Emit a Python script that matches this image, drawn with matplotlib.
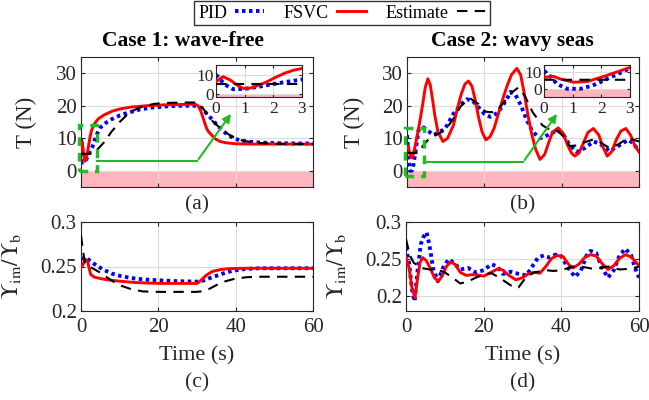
import glob
import os
import numpy as np
import matplotlib
matplotlib.use('Agg')
import matplotlib.pyplot as plt
from matplotlib import font_manager
from matplotlib.patches import Rectangle

# buscar la Liberation Serif (tipo Times) y registrarla
rutas = []
for base in ['/usr/share/fonts', '/usr/local/share/fonts']:
    rutas += glob.glob(os.path.join(base, '**', '*iberation*erif*.ttf'), recursive=True)
for f in set(rutas):
    try:
        font_manager.fontManager.addfont(f)
    except Exception:
        pass
nombres = {f.name for f in font_manager.fontManager.ttflist}
serifs = [n for n in ['Liberation Serif', 'Times New Roman', 'STIXGeneral'] if n in nombres]
plt.rcParams['font.family'] = serifs + ['DejaVu Serif']
plt.rcParams['mathtext.fontset'] = 'stix'

# ---- datos ----
# Caso 1: sin olas, tension T (N)
t_a_pid = [0, 0.3, 0.6, 1.0, 1.5, 2.0, 2.5, 3.0, 4, 5, 6.5, 8, 10, 12, 15, 18, 22, 26, 30,
           31, 32, 33, 34, 35, 36, 37, 38, 39.5, 41, 43, 46, 50, 55, 60]
T_a_pid = [10, 5, 2.5, 2.7, 3.8, 5.2, 6.4, 7.5, 11, 13.3, 14.8, 15.9, 17, 17.8, 18.8, 19.4, 19.8, 20, 20,
           19.3, 18.2, 17, 15.6, 14.3, 13.1, 12, 11, 10, 9.4, 9, 8.7, 8.5, 8.4, 8.4]
t_a_fsvc = [0, 0.25, 0.5, 0.75, 0.95, 1.2, 1.5, 1.8, 2.1, 2.4, 2.7, 3.0, 3.5, 4.5, 6, 8, 10, 13, 17, 22,
            26, 29.5, 30.3, 31, 31.5, 32, 32.5, 33, 34, 35, 36, 37.5, 40, 45, 60]
T_a_fsvc = [6.5, 9, 7.2, 4.5, 2.9, 3.1, 4.6, 6.5, 8.8, 10.8, 12.3, 13.2, 14.5, 16, 17.2, 18.3, 19, 19.6, 20, 20.3,
            20.4, 20.5, 20, 18.3, 16.5, 14.7, 13, 12, 10.7, 9.6, 9, 8.6, 8.3, 8.2, 8.2]
t_a_est = [0, 1, 2, 3, 4, 5, 6, 7, 8, 9, 10, 12, 14, 16, 19, 23, 27, 29.5, 30.5, 31.5, 32.5, 34, 36,
           38, 40, 42, 45, 50, 60]
T_a_est = [5.2, 5.2, 5.2, 5.2, 6.3, 7.5, 8.8, 10.5, 12.2, 13.5, 15, 17.3, 18.8, 19.8, 20.6, 20.9, 21, 21, 20.6,
           19.3, 17.5, 15.3, 13.1, 11.3, 10, 9.2, 8.6, 8.3, 8.2]

# Caso 2: mar con olas, tension T (N)
t_b_pid = [0, 0.2, 0.45, 0.8, 1.27, 1.7, 2.2, 2.7, 3.0, 3.6, 4.3, 5.5, 6.9, 8.5, 9.9, 12, 14, 15.5, 17, 18.5,
           20, 21.5, 23, 24.5, 26, 26.8, 28, 29.5, 31, 32.5, 34.4, 36.5, 38.9, 40.5, 42, 43.9, 46, 48.3, 50,
           52.4, 54.5, 57.2, 58.5, 60]
T_b_pid = [11, 8, 3, 0, 0, 2, 6, 10, 12.6, 13.2, 13.3, 12.2, 11, 12, 13, 17.5, 20.5, 22, 21.5, 19.5,
           17.5, 16.6, 17.5, 19.5, 22.5, 24.3, 23.5, 20, 15.5, 12, 10, 11, 12.5, 11, 8, 5.8, 7, 9, 8.2,
           6, 7.5, 9.5, 8.5, 6]
t_b_fsvc = [0, 0.33, 0.56, 1.03, 1.5, 2.1, 2.5, 3.0, 3.5, 4.0, 4.7, 5.4, 6.0, 6.6, 7.2, 8, 9.3, 10.5, 12, 13, 14,
            15, 15.9, 16.8, 17.6, 18.5, 19.4, 20.4, 21.5, 22.5, 24, 25, 26, 27, 28.4, 29.4, 30.3, 31.3, 32.3,
            33.3, 34.4, 35.6, 36.6, 37.6, 39.1, 40.4, 41.5, 42.5, 43.4, 44.5, 45.6, 46.8, 48.2, 49.6, 50.6,
            51.8, 53, 54.1, 55.3, 56.6, 57.8, 59, 60]
T_b_fsvc = [7, 7.6, 6, 4, 4.4, 7.6, 10, 13, 16.5, 20, 25.5, 28.3, 26.5, 22, 17, 12, 9, 10, 14, 19, 23.5,
            26.7, 27.6, 26, 22, 16.5, 12, 9.5, 10.5, 13, 19, 23, 26.5, 29.5, 31.5, 29.5, 24, 17, 11,
            6.5, 3.5, 5, 8.5, 11.8, 13.2, 11.5, 8, 5.5, 4.5, 5.5, 8.5, 11.8, 13, 11, 7.5,
            4.5, 6, 9.5, 12.2, 13, 11, 7.5, 5.8]
t_b_est = [0, 1, 2, 3, 4, 5.8, 8, 9.9, 12, 14, 16.3, 18.5, 20.2, 22, 23.2, 25, 27, 28.8, 30.5, 32.5, 35,
           37.8, 39, 40.5, 42.1, 44, 46, 48.2, 50, 52.4, 54.5, 56.8, 58.5, 60]
T_b_est = [5.5, 5.5, 5.5, 5.5, 7.5, 10, 11.3, 12.5, 16, 20, 22.3, 20.5, 18.2, 18, 18.5, 21, 24, 25.6, 23, 18, 14,
           12, 12.3, 10.5, 7.6, 7.8, 8.8, 9.6, 8.7, 7, 8, 9.8, 9.6, 9]

# Caso 1: relacion de flotabilidad
t_c_pid = [0, 0.4, 0.8, 1.5, 2.5, 4, 6, 8, 10, 13, 16, 20, 25, 30, 31.5, 33, 35, 37, 39, 42, 46, 60]
R_c_pid = [0.249, 0.256, 0.26, 0.259, 0.256, 0.251, 0.246, 0.242, 0.2395, 0.237, 0.2355, 0.2345, 0.2335,
           0.233, 0.234, 0.2365, 0.2395, 0.2425, 0.245, 0.247, 0.248, 0.248]
t_c_fsvc = [0, 0.5, 1.0, 1.3, 1.7, 2.1, 2.5, 3.5, 5, 7, 10, 14, 20, 25, 30, 30.5, 31.5, 32.5, 34, 36, 38, 42, 60]
R_c_fsvc = [0.249, 0.252, 0.257, 0.258, 0.256, 0.248, 0.241, 0.238, 0.2365, 0.235, 0.2335, 0.232, 0.231,
            0.231, 0.231, 0.2325, 0.2365, 0.2405, 0.2445, 0.2465, 0.2475, 0.248, 0.248]
t_c_est = [0, 0.5, 1, 1.5, 3, 5, 8, 10, 13, 16, 20, 25, 30, 31, 33, 35, 37, 40, 43, 46, 60]
R_c_est = [0.285, 0.268, 0.255, 0.251, 0.248, 0.243, 0.234, 0.229, 0.2245, 0.222, 0.2215, 0.2215, 0.2215,
           0.222, 0.2245, 0.229, 0.233, 0.2365, 0.238, 0.2385, 0.2385]

# Caso 2: relacion de flotabilidad
t_d_pid = [0, 0.8, 1.5, 2.2, 3.0, 3.8, 4.5, 5.3, 6.0, 7.0, 8.2, 9.5, 11, 12.5, 14, 16, 18, 20, 22, 23.5,
           25, 27, 29, 31, 32.5, 34, 35.5, 37, 38.5, 40, 41.5, 43.5, 45, 46.5, 47.5, 49, 50.5, 52, 53.5, 55,
           56.5, 58, 59, 60]
R_d_pid = [0.266, 0.245, 0.21, 0.193, 0.235, 0.27, 0.28, 0.286, 0.27, 0.237, 0.22, 0.238, 0.25, 0.244,
           0.236, 0.238, 0.232, 0.235, 0.243, 0.24, 0.23, 0.233, 0.23, 0.228, 0.24, 0.252, 0.255, 0.252,
           0.256, 0.254, 0.24, 0.226, 0.234, 0.255, 0.261, 0.258, 0.238, 0.225, 0.235, 0.255, 0.264,
           0.255, 0.238, 0.225]
t_d_fsvc = [0, 0.8, 1.5, 2.3, 3.0, 3.6, 4.3, 5.2, 6.3, 7.3, 8.3, 9.3, 10.4, 11.5, 12.6, 14, 15.5, 17, 18.5,
            20, 21.5, 23.7, 25, 26.5, 28.3, 30, 31.5, 33, 34.5, 36, 37.5, 39, 40.5, 42, 43, 44.5, 46, 47.5,
            49, 50.5, 52, 53.5, 55, 56.5, 58, 59, 60]
R_d_fsvc = [0.252, 0.238, 0.212, 0.198, 0.225, 0.245, 0.252, 0.248, 0.237, 0.225, 0.22, 0.227, 0.24, 0.246,
            0.243, 0.232, 0.228, 0.229, 0.2285, 0.227, 0.231, 0.237, 0.235, 0.228, 0.222, 0.225, 0.23,
            0.232, 0.231, 0.24, 0.251, 0.255, 0.253, 0.242, 0.238, 0.243, 0.252, 0.256, 0.254, 0.244,
            0.236, 0.241, 0.251, 0.256, 0.253, 0.247, 0.241]
t_d_est = [0, 1, 2, 4, 6, 8, 10, 12, 14, 16, 18, 20, 22, 24, 26, 28, 29, 31, 33, 36, 38, 40, 43, 45, 48,
           50, 52, 55, 58, 60]
R_d_est = [0.277, 0.255, 0.245, 0.238, 0.236, 0.236, 0.232, 0.225, 0.217, 0.22, 0.225, 0.229, 0.231, 0.225,
           0.218, 0.211, 0.212, 0.226, 0.232, 0.235, 0.234, 0.235, 0.24, 0.24, 0.237, 0.238, 0.24, 0.236,
           0.237, 0.24]

labels = ['PID', 'FSVC', 'Estimate']
x_ticks = [0, 20, 40, 60]

# ---- estilos ----
azul = dict(color='blue', lw=2.8, ls=(0, (0.9, 0.9)))
rojo = dict(color='red', lw=2.1, ls='-')
negro = dict(color='black', lw=1.5, ls=(0, (5, 3.5)))
verde = '#22bb22'
rosa = (1.0, 0.71, 0.74)
gris = '#262626'


def estilo(ax, fs):
    ax.tick_params(direction='in', top=True, right=True, length=3, width=0.8,
                   labelsize=fs, colors=gris, pad=3)
    for s in ax.spines.values():
        s.set_color(gris)
        s.set_linewidth(0.8)
    ax.grid(True, color='#dcdcdc', lw=0.8)
    ax.set_axisbelow(True)


fig = plt.figure(figsize=(6.49, 4.0), dpi=100)
W, H = 649.0, 400.0

def caja(l, t, w, h):
    return [l / W, 1 - (t + h) / H, w / W, h / H]

axA = fig.add_axes(caja(81, 57, 232, 130))
axB = fig.add_axes(caja(407, 57, 232, 130))
axC = fig.add_axes(caja(81, 222, 232, 89))
axD = fig.add_axes(caja(406, 222, 233, 89))
insA = fig.add_axes(caja(216, 65, 86, 32))
insB = fig.add_axes(caja(544, 65, 86, 32))

series_T = [(axA, insA, t_a_pid, T_a_pid, t_a_fsvc, T_a_fsvc, t_a_est, T_a_est, (-1.5, 15)),
            (axB, insB, t_b_pid, T_b_pid, t_b_fsvc, T_b_fsvc, t_b_est, T_b_est, (-5, 14.5))]

for ax, ins, tp, yp, tf, yf, te, ye, ins_lim in series_T:
    for a in (ax, ins):
        a.axhspan(-10, 0, color=rosa, lw=0, zorder=0.5)
        a.plot(tp, yp, **azul, zorder=2)
        a.plot(tf, yf, **rojo, zorder=3)
        a.plot(te, ye, **negro, zorder=4)
    ax.set_xlim(0, 60)
    ax.set_ylim(-5, 35)
    ax.set_xticks(x_ticks)
    ax.set_xticklabels([])
    ax.set_yticks([0, 10, 20, 30])
    ax.set_ylabel('T (N)', fontsize=16.5, color=gris)
    estilo(ax, 15)
    ins.set_xlim(0, 3)
    ins.set_ylim(*ins_lim)
    ins.set_xticks([0, 1, 2, 3])
    ins.set_yticks([0, 10])
    estilo(ins, 12.5)
    ins.tick_params(pad=1.5, length=2)
    ins.tick_params(axis='x', pad=3)

axA.yaxis.set_label_coords(-0.19, 0.5)
axB.yaxis.set_label_coords(-0.18, 0.5)
axA.set_title('Case 1: wave-free', fontsize=15.5, fontweight='bold', pad=8, x=0.44)
axB.set_title('Case 2: wavy seas', fontsize=15.5, fontweight='bold', pad=8, x=0.455)

# recuadro de zoom y flecha hacia el inset
for ax, rx, ry, rw, rh, yl in [(axA, -0.45, 0.0, 4.65, 14.2, 2.9), (axB, -0.5, -1.5, 5.0, 14.6, 2.6)]:
    ax.add_patch(Rectangle((rx, ry), rw, rh, fill=False, ec=verde, lw=2.5,
                           ls=(0, (2.5, 2)), clip_on=False, zorder=6))
    ax.plot([rx + rw, 30], [yl, yl], color=verde, lw=1.5, zorder=6, clip_on=False)
    ax.annotate('', xy=(39.2, 18.2), xytext=(30, yl),
                arrowprops=dict(arrowstyle='-|>', color=verde, lw=1.5, mutation_scale=12),
                zorder=6)

for ax, tp, yp, tf, yf, te, ye, lim in [(axC, t_c_pid, R_c_pid, t_c_fsvc, R_c_fsvc, t_c_est, R_c_est, (0.2, 0.3)),
                                        (axD, t_d_pid, R_d_pid, t_d_fsvc, R_d_fsvc, t_d_est, R_d_est, (0.18, 0.3))]:
    ax.plot(tp, yp, **azul, zorder=2)
    ax.plot(tf, yf, **rojo, zorder=3)
    ax.plot(te, ye, **negro, zorder=4)
    ax.set_xlim(0, 60)
    ax.set_ylim(*lim)
    ax.set_xticks(x_ticks)
    ax.set_yticks([0.2, 0.25, 0.3])
    ax.set_yticklabels(['0.2', '0.25', '0.3'])
    ax.set_xlabel('Time (s)', fontsize=16, color=gris, labelpad=7)
    ax.set_ylabel(r'$\Upsilon_{\rm im}/\Upsilon_{\rm b}$', fontsize=16.5, color=gris)
    estilo(ax, 15)
    ax.tick_params(axis='x', pad=5)

axC.yaxis.set_label_coords(-0.25, 0.5)
axD.yaxis.set_label_coords(-0.25, 0.5)

# letras de los paneles
for x, y, s in [(197, 205, '(a)'), (523, 205, '(b)'), (197, 383, '(c)'), (523, 383, '(d)')]:
    fig.text(x / W, 1 - y / H, s, fontsize=15.5, ha='center', va='center', color=gris)

h1, = axA.plot([], [], **azul)
h2, = axA.plot([], [], **rojo)
h3, = axA.plot([], [], **negro)
leg = fig.legend([h1, h2, h3], labels, loc='center', bbox_to_anchor=(342 / W, 1 - 13 / H),
                 ncol=3, markerfirst=False, fontsize=13, frameon=True, fancybox=False,
                 edgecolor='black', handlelength=1.6, handletextpad=0.45, columnspacing=1.1,
                 borderpad=0.2, borderaxespad=0)
leg.get_frame().set_linewidth(1.0)

fig.savefig('out.png', dpi=100)
